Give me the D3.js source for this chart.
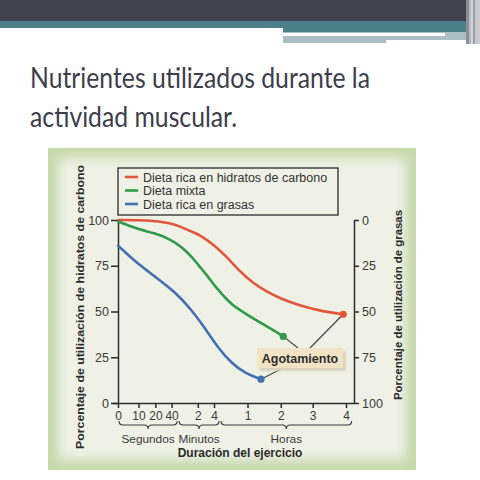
<!DOCTYPE html>
<html><head><meta charset="utf-8">
<script src="https://cdn.jsdelivr.net/npm/d3@7/dist/d3.min.js"></script>
<style>body{margin:0;background:#fff}svg{display:block}</style>
</head><body>
<svg id="c" width="480" height="480"></svg>
<script>
// ---- data ----
const seriesNames = ["Dieta rica en hidratos de carbono", "Dieta mixta", "Dieta rica en grasas"];
const seriesColors = ["#e2573b", "#2f9a4a", "#4270b3"];
// x in minutes of exercise, y in % use of carbohydrates
const carbRich = [[0,100],[0.26,100],[0.67,98.2],[1.1,96.4],[1.69,93.6],[2.27,91.8],[4,86.3],[25,80],[47.5,71.7],[70.5,65.4],[94.6,60.8],[118.6,57.2],[156,53.2],[193,50.3],[235,48.5]];
const mixed    = [[0,99.3],[0.14,95.4],[0.33,92.7],[0.6,90],[1.18,85.4],[1.77,79],[2.06,75.4],[3.1,70],[5.7,63.8],[14,60.8],[33,53.6],[58.7,48.5],[82.5,44],[106.5,39.8],[124.7,36.4]];
const fatRich  = [[0,86],[0.14,77.2],[0.33,69],[0.84,60.8],[1.69,50.8],[2.89,40.8],[11.2,29.9],[33.6,21.7],[55.8,16.2],[84.3,13]];
const xTickValues = [0, 10/60, 20/60, 40/60, 2, 4, 60, 120, 180, 240];
const xTickLabels = ["0","10","20","40","2","4","1","2","3","4"];
const yTicks = [0, 25, 50, 75, 100];
const groups = [["Segundos",0,1],["Minutos",1,14],["Horas",14,252]];

const svg = d3.select("#c");

// ---- slide header ----
svg.append("rect").attr("x",0).attr("y",0).attr("width",480).attr("height",22).attr("fill","#42434f");
svg.append("rect").attr("x",0).attr("y",21).attr("width",480).attr("height",7).attr("fill","#4b8088");
svg.append("rect").attr("x",283).attr("y",28).attr("width",187).attr("height",4).attr("fill","#4b8088");
svg.append("rect").attr("x",283).attr("y",32).attr("width",187).attr("height",11).attr("fill","#a9bfc3");
svg.append("rect").attr("x",283).attr("y",33).attr("width",162).attr("height",3).attr("fill","#ffffff");
svg.append("rect").attr("x",386).attr("y",40).attr("width",84).attr("height",3).attr("fill","#ffffff");
[["#8d8e97",466,3],["#b7b8bf",469,2],["#d7d8dc",471,2],["#9c9da6",473,2],["#c9cacf",475,5]].forEach(d=>{
  svg.append("rect").attr("x",d[1]).attr("y",0).attr("width",d[2]).attr("height",44).attr("fill",d[0]);
});

// ---- title ----
const title = svg.append("g").attr("fill","#3d3e4c").style("font-family","Lato, 'DejaVu Sans'").style("font-size","29px");
title.append("text").attr("x",30).attr("y",88).attr("textLength",340).attr("lengthAdjust","spacingAndGlyphs").text("Nutrientes utilizados durante la");
title.append("text").attr("x",30).attr("y",127).attr("textLength",207).attr("lengthAdjust","spacingAndGlyphs").text("actividad muscular.");

// ---- panel ----
const defs = svg.append("defs");
defs.append("filter").attr("id","blur").attr("x","-10%").attr("y","-10%").attr("width","120%").attr("height","120%")
  .append("feGaussianBlur").attr("stdDeviation",6);
defs.append("filter").attr("id","blur2").append("feGaussianBlur").attr("stdDeviation",1.2);
svg.append("rect").attr("x",48).attr("y",148).attr("width",368).attr("height",322).attr("fill","#c6d9aa");
svg.append("rect").attr("x",58).attr("y",158).attr("width",348).attr("height",302).attr("fill","#eff1e6").attr("filter","url(#blur)");

// ---- scales ----
const x0 = 118, x1 = 346;
const fr = [0, 0.09, 0.164, 0.235, 0.35, 0.421, 0.568, 0.714, 0.854, 1];
const x = d3.scaleLinear().domain(xTickValues).range(fr.map(f => x0 + f*(x1-x0)));
const y = d3.scaleLinear().domain([0,100]).range([403,220]);
const yR = d3.scaleLinear().domain([0,100]).range([220,403]);

const font = "'Liberation Sans', Arial, sans-serif";

// left axis
const gL = svg.append("g").attr("transform",`translate(${x0},0)`)
  .call(d3.axisLeft(y).tickValues(yTicks).tickSize(7).tickSizeOuter(0));
// right axis
const gR = svg.append("g").attr("transform",`translate(354,0)`)
  .call(d3.axisRight(yR).tickValues(yTicks).tickSize(5).tickSizeOuter(0));
// bottom axis
const gB = svg.append("g").attr("transform",`translate(0,403)`)
  .call(d3.axisBottom(x).tickValues(xTickValues).tickFormat((d,i)=>xTickLabels[i]).tickSize(5).tickSizeOuter(0));
gB.select(".domain").attr("d",`M${x0-5},0.5H354`);
[gL,gR,gB].forEach(g=>{
  g.selectAll(".domain").attr("stroke","#2b2b2b").attr("stroke-width",1.5);
  g.selectAll(".tick line").attr("stroke","#2b2b2b").attr("stroke-width",1.5);
  g.selectAll("text").style("font-family",font).style("font-size","12.5px").attr("fill","#3a3a3a");
});
gL.selectAll(".tick text").attr("x",-9);
gR.selectAll(".tick text").attr("x",8);
gB.selectAll(".tick text").attr("y",8).style("font-size","12px");

// braces
const bg = svg.append("g");
groups.forEach(([name,a,b])=>{
  const xa = x(a)+1, xb = x(b)-1, m = (xa+xb)/2, yy = 421, h = 8, q = 4;
  bg.append("path").attr("fill","none").attr("stroke","#3a3a3a").attr("stroke-width",1.1)
    .attr("d",`M${xa},${yy} Q${xa},${yy+h/2} ${xa+q},${yy+h/2} L${m-q},${yy+h/2} Q${m},${yy+h/2} ${m},${yy+h} Q${m},${yy+h/2} ${m+q},${yy+h/2} L${xb-q},${yy+h/2} Q${xb},${yy+h/2} ${xb},${yy}`);
  bg.append("text").attr("x",m).attr("y",443).attr("text-anchor","middle")
    .style("font-family",font).style("font-size","11.8px").attr("fill","#3a3a3a").text(name);
});

// axis titles
svg.append("text").attr("transform","translate(240,457)").attr("text-anchor","middle")
  .style("font-family",font).style("font-weight","bold").style("font-size","12px").attr("fill","#2b2b2b")
  .text("Duración del ejercicio");
svg.append("text").attr("transform","translate(84,307) rotate(-90)").attr("text-anchor","middle")
  .style("font-family",font).style("font-weight","bold").style("font-size","11px").attr("fill","#2b2b2b")
  .attr("textLength",284).attr("lengthAdjust","spacingAndGlyphs")
  .text("Porcentaje de utilización de hidratos de carbono");
svg.append("text").attr("transform","translate(402,305) rotate(-90)").attr("text-anchor","middle")
  .style("font-family",font).style("font-weight","bold").style("font-size","11px").attr("fill","#2b2b2b")
  .attr("textLength",190).attr("lengthAdjust","spacingAndGlyphs")
  .text("Porcentaje de utilización de grasas");

// ---- lines ----
const line = d3.line().x(d=>x(d[0])).y(d=>y(d[1])).curve(d3.curveBasis);
const allSeries = [carbRich, mixed, fatRich];
allSeries.forEach((s,i)=>{
  svg.append("path").datum(s).attr("fill","none").attr("stroke",seriesColors[i]).attr("stroke-width",2.6)
    .attr("stroke-linecap","round").attr("d",line);
});

// ---- Agotamiento annotation ----
const bx = 257, by = 348, bw = 86, bh = 20;
const ends = allSeries.map(s => s[s.length-1]);
const anchors = [[310,by],[298,by],[283,by+bh]];
ends.forEach((e,i)=>{
  svg.append("line").attr("x1",x(e[0])).attr("y1",y(e[1])).attr("x2",anchors[i][0]).attr("y2",anchors[i][1])
    .attr("stroke","#444").attr("stroke-width",1.2);
});
svg.append("rect").attr("x",bx+3).attr("y",by+3).attr("width",bw).attr("height",bh).attr("fill","#d9d2bd").attr("filter","url(#blur2)");
svg.append("rect").attr("x",bx).attr("y",by).attr("width",bw).attr("height",bh).attr("fill","#f1e3c3");
svg.append("text").attr("x",bx+bw/2).attr("y",by+14.5).attr("text-anchor","middle")
  .style("font-family",font).style("font-weight","bold").style("font-size","12.5px").attr("fill","#2e2e2e").text("Agotamiento");
ends.forEach((e,i)=>{
  svg.append("circle").attr("cx",x(e[0])).attr("cy",y(e[1])).attr("r",3.6).attr("fill",seriesColors[i]);
});

// ---- legend ----
const lg = svg.append("g");
lg.append("rect").attr("x",118).attr("y",168).attr("width",220).attr("height",47).attr("fill","none").attr("stroke","#2b2b2b").attr("stroke-width",1.3);
seriesNames.forEach((n,i)=>{
  const yy = 177 + i*13.5;
  lg.append("line").attr("x1",125).attr("x2",138).attr("y1",yy).attr("y2",yy).attr("stroke",seriesColors[i]).attr("stroke-width",2.6);
  lg.append("text").attr("x",143).attr("y",yy+4.5).style("font-family",font).style("font-size","12.5px").attr("fill","#333").text(n);
});
</script>
</body></html>
